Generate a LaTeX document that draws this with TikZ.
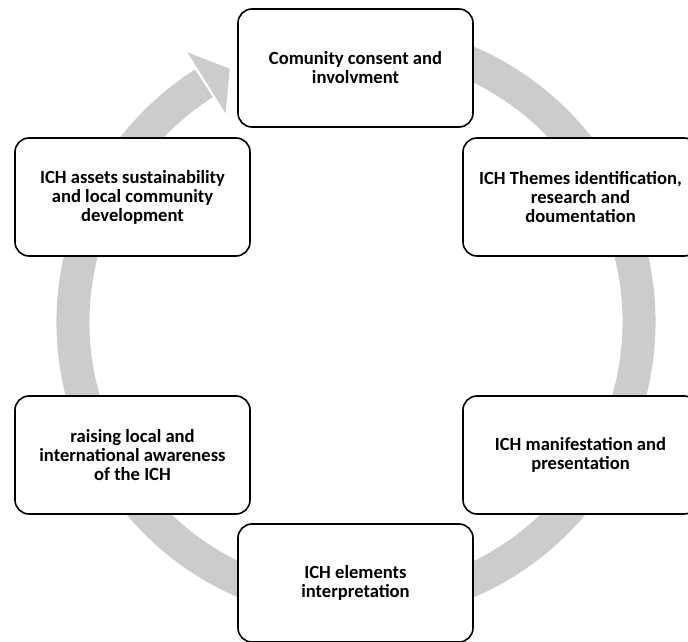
\documentclass[tikz,border=0pt]{standalone}
\usepackage{fontspec}
\setmainfont{Carlito}

\begin{document}
\begin{tikzpicture}[x=1pt,y=1pt]

\tikzset{StageBox/.style = {draw, line width=1.6pt, rounded corners=14pt, fill=white,
  minimum width=235pt, minimum height=118pt, inner sep=0pt, align=center,
  font=\fontsize{18.6}{19}\selectfont\bfseries}}
\tikzset{RingArrow/.style = {black!20}}

\useasboundingbox (0,0) rectangle (688,641);

\coordinate (c) at (356,319);

% grey cycle arrow behind the boxes
\draw[RingArrow, line width=33pt] (c) ++(80:283) arc[start angle=80, end angle=-237.5, radius=283];
\fill[RingArrow] ([shift={(122:246)}]c) -- ([shift={(116.5:283)}]c) -- ([shift={(122:318)}]c) -- cycle;

\node[StageBox] (consent) at (355.5,573) {Comunity consent and\\ involvment};
\node[StageBox] (themes) at (580.5,444) {ICH Themes identification,\\ research and\\ doumentation};
\node[StageBox] (manifest) at (580.5,186) {ICH manifestation and\\ presentation};
\node[StageBox] (interp) at (355.5,58) {ICH elements\\ interpretation};
\node[StageBox] (awareness) at (132.5,186) {raising local and\\ international awareness\\ of the ICH};
\node[StageBox] (sustain) at (132.5,444) {ICH assets sustainability\\ and local community\\ development};

\end{tikzpicture}
\end{document}
